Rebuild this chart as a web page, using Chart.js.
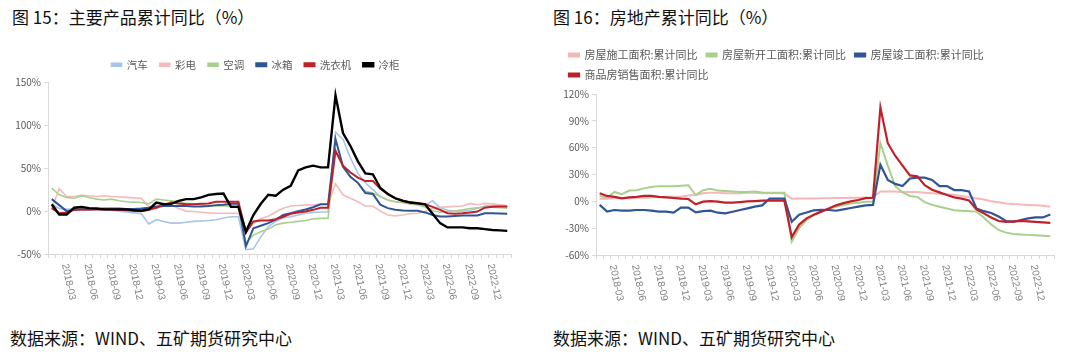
<!DOCTYPE html>
<html>
<head>
<meta charset="utf-8">
<title>累计同比</title>
<script src="https://cdn.jsdelivr.net/npm/chart.js@4.4.1/dist/chart.umd.min.js"></script>
<style>
  body { margin: 0; width: 1080px; height: 363px; background: #fff; position: relative; overflow: hidden; }
  .txt { position: absolute; font-family: "Noto Sans CJK SC", sans-serif; font-size: 17px; line-height: 20px; color: #111; white-space: nowrap; }
  .box { position: absolute; }
</style>
</head>
<body>
<div class="txt" style="left:12px;top:7px">图 15：主要产品累计同比（%）</div>
<div class="txt" style="left:553px;top:7px">图 16：房地产累计同比（%）</div>
<div class="box" style="left:0;top:40px"><canvas id="c1" width="540" height="270"></canvas></div>
<div class="box" style="left:540px;top:30px"><canvas id="c2" width="540" height="280"></canvas></div>
<div class="txt" style="left:10px;top:328px">数据来源：WIND、五矿期货研究中心</div>
<div class="txt" style="left:553px;top:328px">数据来源：WIND、五矿期货研究中心</div>

<script>
// months 2018-01 .. 2023-02
const months = [];
for (let y = 2018; y <= 2023; y++) {
  for (let m = 1; m <= 12; m++) {
    if (y === 2023 && m > 2) break;
    months.push(y + '-' + String(m).padStart(2, '0'));
  }
}
const tickMonths = ['03', '06', '09', '12'];

// 图15 主要产品累计同比
const qiche = [8,3,2,3,3,3,2,2,1,0, -1,-2,-3,-15,-10,-12,-14,-14,-13,-12, -11.5,-11,-10,-8,-6.5,-6.5,-45,-44,-30,-18, -12,-8,-6.5,-4.5,-2.5,-1.5,-1,-1,92,84, 62,44,33,25,17,13,11,10,8.5,7.5, 7,12,4,1,0,0,1,3,6,6.5, 6,5];
const caidian = [3,26,17,17,18.5,18,17,18,17,16.5, 16,15.5,15,5,3.5,6,7,3,0,-0.5, -1.3,-2,-2.4,-2.4,-2.4,-2.4,-22,-14,-8.5,-6, -1,3.5,6,6.5,7,7.3,8,8,32,19, 15,11,6,6,0,-4.5,-5.5,-4.5,-3,-2.4, -0.5,3.4,4.5,5,5.5,6,9,7.5,9,8.5, 7.5,6.5];
const kongtiao = [27,19,16,15,18,16,14,13,14,12, 11,10.5,10,8.5,14,13,12,11,9,8.5, 7.5,6,6,6,6,6,-37,-28,-24,-21, -16,-14,-13,-12,-11,-9,-8.5,-8.5,72,51, 40,33,23,21,17,13,11,10,8.5,7.5, 4.5,0.5,-1.3,-0.5,0.5,1.5,3,4,4.5,4.5, 4,3.5];
const bingxiang = [14,7,0,1.5,2,2,2.5,3,3,3, 2.5,2.5,3,4,5.5,6,6,6,6,5.5, 5.5,6,7,7.5,8.5,8.5,-41,-20,-17,-14, -10,-4.5,-2.5,0,2,4.5,8,8,84,52, 40,33,21,20,7.5,3.5,1.5,0.7,0.3,0.3, -1.5,-4.5,-6.3,-6.3,-5.6,-5.2,-5.2,-5,-2.5,-2.5, -2.7,-3];
const xiyiji = [3.5,-2.5,-1.5,1.5,2,2,2,2,2,1.5, 1,0.5,0,1.5,4,7.5,10,9,8,8, 8.5,9,11,11,11,11,-25,-12,-11,-11, -9.5,-6.5,-3,-1.5,-0.5,1.5,4,4,70,53, 45,39,35,35,26,20,15,12.5,10.5,9.5, 8,5,1.5,-2.5,-3,-2.5,-1.5,-0.5,4,5, 5.5,5.5];
const lenggui = [8,-4,-4,4,5,3.5,3,2,2,2, 2,1,0.5,2,10,8,8.5,12,14,14, 16,19,20,20.5,5,5,-24,-4.5,8.5,19, 18,25,29.5,47.5,51,53,51,51,135,91, 76,58,44,43,27,20,15,12,10,9, 8,-3,-14,-19,-19,-19,-20,-20,-21,-22, -22.5,-23];

// 图16 房地产累计同比
const shigong = [3,3,3.5,3.5,3.5,4,4,4.5,4.5,5, 5,5.5,6.5,7,9,9.5,9.5,9,9,9, 9.5,9.5,9,9,9,8.7,3,3.3,3.3,3.3, 3.5,3.5,3.7,3.7,4,4,4.2,4.4,11,11, 11,10.5,10.5,10.5,9.5,9,8.5,8,7,6, 4.5,3.5,2,0,-1,-2.3,-3,-3.5,-4,-4.5, -5,-6];
const xinkaigong = [6,4,10.5,8,12,12.5,14.5,16,17,17, 17,17.5,18,7,12.5,14,12,11.5,11,10.5, 10.5,11,10,9.7,9.7,9.7,-45,-30,-21,-15, -11.5,-8.5,-6,-4,-2.5,-1.5,-0.5,-0.3,65,40, 17,10,6,5,-1,-4,-6,-8,-10,-10.5, -11,-11.5,-18,-26,-32,-35,-36.5,-37,-37.5,-38, -38.5,-39];
const jungong = [-4,-11.5,-9.7,-10.4,-10.4,-9.7,-9.7,-10.4,-11.6,-11.6, -12.7,-7,-7,-12.3,-11,-10.4,-12.7,-13.4,-11.6,-9.7, -7.8,-6,-4.5,3,3,3,-22.8,-15,-12.5,-10, -9.5,-9.7,-10.5,-9,-7.5,-6,-4.5,-4,41,24, 19.5,17,25.5,26.5,26.5,24,17,17,12.6,12.6, 11,-8,-11,-13,-17,-22,-23,-21,-19,-18, -18,-14.6];
const xiaoshou = [9,6,5,3.3,4.4,5,6,6,5,4.4, 3.7,3,2.6,-3.4,-0.4,0.3,-0.4,-1.5,-1.5,-0.8, 0,0.3,0.7,0.7,0.7,0.7,-40,-26,-19,-15, -11.5,-8,-4.5,-2,0,1.5,3.5,4,105,65, 51,40,29,28,18,13,10,7,4.5,3, 1,-9,-13.5,-18,-22,-23,-22.5,-22,-22.5,-23, -23.5,-24];

Chart.defaults.font.family = '"Noto Sans CJK SC", "Liberation Sans", sans-serif';
Chart.defaults.color = '#595959';

// x labels read top-to-bottom, so they are drawn here at the scale's tick pixels
const monthLabels = {
  id: 'monthLabels',
  afterDraw(chart) {
    const xs = chart.scales.x, ctx = chart.ctx;
    ctx.save();
    ctx.font = '10px "Liberation Sans"';
    ctx.fillStyle = '#808080';
    ctx.textBaseline = 'middle';
    chart.data.labels.forEach((lab, i) => {
      if (!tickMonths.includes(lab.slice(5))) return;
      ctx.save();
      ctx.translate(xs.getPixelForValue(i) - 2, xs.bottom + 6);
      ctx.rotate(78 * Math.PI / 180);
      ctx.fillText(lab, 0, 0);
      ctx.restore();
    });
    ctx.restore();
  }
};

function line(label, data, color, width, n, i) {
  return { label, data, borderColor: color, backgroundColor: color, borderWidth: width,
           pointRadius: 0, tension: 0, order: n - i };
}

function makeChart(id, datasets, o) {
  return new Chart(id, {
    type: 'line',
    data: { labels: months, datasets },
    plugins: [monthLabels],
    options: {
      responsive: false,
      animation: false,
      events: [],
      layout: { padding: o.padding },
      plugins: {
        legend: {
          align: o.legendAlign,
          labels: { boxWidth: 10, boxHeight: 3, padding: o.legendPad, color: '#595959',
                    font: { size: o.legendSize },
                    sort: (a, b) => a.datasetIndex - b.datasetIndex }
        },
        subtitle: { display: true, text: '', weight: 500, font: { size: 1, lineHeight: 1 },
                    padding: { top: 0, bottom: o.gap } },
        tooltip: { enabled: false }
      },
      scales: {
        x: {
          offset: true,
          grid: { display: true, offset: true, drawOnChartArea: false, drawTicks: true, tickLength: 4, color: '#d9d9d9' },
          border: { display: true, color: '#d9d9d9' },
          ticks: { display: false }
        },
        y: {
          min: o.min, max: o.max,
          afterFit: s => { s.width = o.yWidth; },
          grid: { display: true, drawOnChartArea: false, drawTicks: true, tickLength: 4, color: '#d9d9d9' },
          border: { display: true, color: '#d9d9d9' },
          ticks: { stepSize: o.step, padding: 3, color: '#595959', font: { size: 10 },
                   callback: v => v + '%' }
        }
      }
    }
  });
}

const left = [
  ['汽车', qiche, '#a9c4ea', 1.6],
  ['彩电', caidian, '#f5baba', 1.6],
  ['空调', kongtiao, '#a8d08d', 1.6],
  ['冰箱', bingxiang, '#2f5597', 2],
  ['洗衣机', xiyiji, '#c0202a', 2],
  ['冷柜', lenggui, '#000000', 2.4]
];
makeChart('c1', left.map((d, i) => line(d[0], d[1], d[2], d[3], left.length, i)), {
  padding: { left: 0, right: 29, top: 7.5, bottom: 52 },
  legendAlign: 'center', legendPad: 12, legendSize: 10.5, gap: 1.5,
  min: -50, max: 150, step: 50, yWidth: 48
});

const right = [
  ['房屋施工面积:累计同比', shigong, '#f5b8b8', 2],
  ['房屋新开工面积:累计同比', xinkaigong, '#a8d08d', 2],
  ['房屋竣工面积:累计同比', jungong, '#2f5597', 2.2],
  ['商品房销售面积:累计同比', xiaoshou, '#c0202a', 2.2]
];
makeChart('c2', right.map((d, i) => line(d[0], d[1], d[2], d[3], right.length, i)), {
  padding: { left: 20, right: 26, top: 10.5, bottom: 51 },
  legendAlign: 'start', legendPad: 9, legendSize: 11, gap: 2.5,
  min: -60, max: 120, step: 30, yWidth: 36
});
</script>
</body>
</html>
